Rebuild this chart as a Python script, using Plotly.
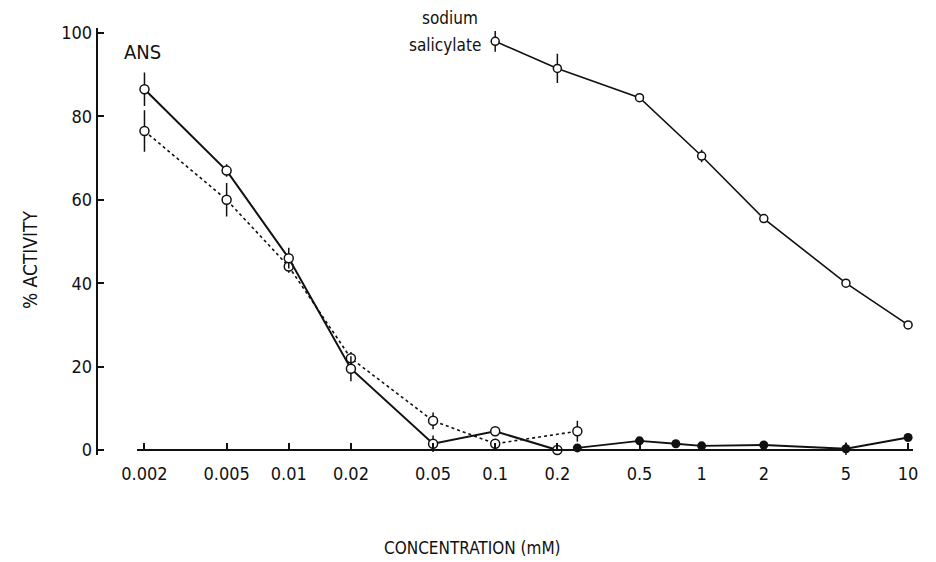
import plotly.graph_objects as go

# ---- data ----
tick_vals = [0.002, 0.005, 0.01, 0.02, 0.05, 0.1, 0.2, 0.5, 1, 2, 5, 10]
tick_text = ["0.002", "0.005", "0.01", "0.02", "0.05", "0.1", "0.2", "0.5", "1", "2", "5", "10"]

ans_solid_x = [0.002, 0.005, 0.01, 0.02, 0.05, 0.1, 0.2]
ans_solid_y = [86.5, 67, 46, 19.5, 1.5, 4.5, 0]
ans_solid_err = [4, 1.5, 2.5, 3, 2, 0, 0]

ans_dot_x = [0.002, 0.005, 0.01, 0.02, 0.05, 0.1, 0.25]
ans_dot_y = [76.5, 60, 44, 22, 7, 1.5, 4.5]
ans_dot_err = [5, 4, 1.5, 1.5, 2, 0, 2.5]

filled_x = [0.25, 0.5, 0.75, 1, 2, 5, 10]
filled_y = [0.5, 2.2, 1.5, 1, 1.2, 0.3, 3]
filled_err = [0, 0, 0, 0, 0, 1.5, 0]

sal_x = [0.1, 0.2, 0.5, 1, 2, 5, 10]
sal_y = [98, 91.5, 84.5, 70.5, 55.5, 40, 30]
sal_err = [2.5, 3.5, 0, 1.5, 0, 0, 0]

FONT = "DejaVu Sans Condensed, DejaVu Sans, sans-serif"
BLACK = "#111111"

fig = go.Figure()

def open_series(x, y, err, dash, width, size):
    fig.add_trace(go.Scatter(
        x=x, y=y, mode="lines+markers",
        line=dict(color=BLACK, width=width, dash=dash),
        marker=dict(symbol="circle", size=size, color="white",
                    line=dict(color=BLACK, width=1.5)),
        error_y=dict(type="data", array=err, visible=True,
                     color=BLACK, thickness=1.5, width=0),
        cliponaxis=False, showlegend=False))

open_series(ans_dot_x, ans_dot_y, ans_dot_err, "dot", 1.6, 9)
open_series(ans_solid_x, ans_solid_y, ans_solid_err, "solid", 2, 9)
open_series(sal_x, sal_y, sal_err, "solid", 1.6, 8)

fig.add_trace(go.Scatter(
    x=filled_x, y=filled_y, mode="lines+markers",
    line=dict(color=BLACK, width=1.8),
    marker=dict(symbol="circle", size=9, color=BLACK),
    error_y=dict(type="data", array=filled_err, visible=True,
                 color=BLACK, thickness=1.5, width=0),
    cliponaxis=False, showlegend=False))

W, H = 936, 562
ml, mr, mt, mb = 40, 10, 20, 62
pw, ph = W - ml - mr, H - mt - mb

def px_x(p):
    return (p - ml) / pw

def px_y(p):
    return (H - mb - p) / ph

def label(text, x, y, size=17, angle=0):
    return dict(text=text, xref="paper", yref="paper",
                x=px_x(x), y=px_y(y), xanchor="center", yanchor="middle",
                showarrow=False, textangle=angle,
                font=dict(size=size, family=FONT))

fig.update_layout(
    width=W, height=H,
    margin=dict(l=ml, r=mr, t=mt, b=mb),
    paper_bgcolor="white", plot_bgcolor="white",
    font=dict(family=FONT, color=BLACK, size=17),
    xaxis=dict(
        type="log", range=[-2.733, 1.024],
        domain=[px_x(138), px_x(918)],
        anchor="free", position=px_y(450),
        tickvals=tick_vals, ticktext=tick_text,
        ticks="inside", ticklen=6, tickwidth=1.5, tickcolor=BLACK,
        ticklabelstandoff=7,
        showline=True, linecolor=BLACK, linewidth=2,
        showgrid=False, zeroline=False,
        tickfont=dict(size=18, family=FONT),
    ),
    yaxis=dict(
        range=[-1.2, 101.2],
        domain=[px_y(455), px_y(28)],
        anchor="free", position=px_x(97),
        tickvals=[0, 20, 40, 60, 80, 100],
        ticks="inside", ticklen=6, tickwidth=1.5, tickcolor=BLACK,
        showline=True, linecolor=BLACK, linewidth=2,
        showgrid=False, zeroline=False,
        tickfont=dict(size=18, family=FONT),
    ),
    annotations=[
        label("ANS", 143, 52, 20),
        label("sodium", 452, 18),
        label("salicylate", 447, 45),
        label("% ACTIVITY", 30, 260, 19, -90),
        label("CONCENTRATION (mM)", 475, 548),
    ],
)

fig.write_html("out.html")
